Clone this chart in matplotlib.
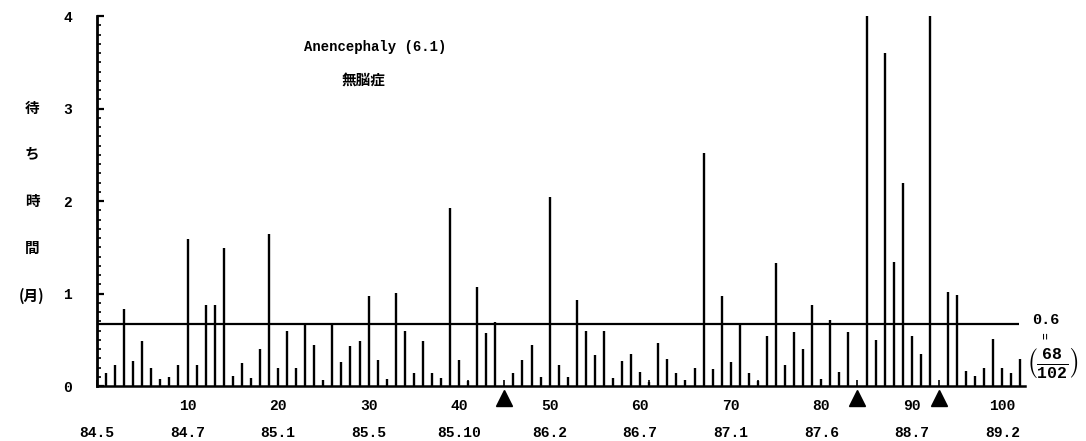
import matplotlib
matplotlib.use("Agg")
import matplotlib.pyplot as plt
from matplotlib.ticker import MultipleLocator, FixedLocator
import matplotlib.transforms as mtransforms
import numpy as np

# waiting time (months) between successive cases, case no. 1..102
wait_months = [
    0.14, 0.23, 0.83, 0.27, 0.49, 0.20, 0.08, 0.10, 0.23, 1.59,
    0.23, 0.88, 0.88, 1.49, 0.11, 0.25, 0.09, 0.40, 1.64, 0.19,
    0.60, 0.19, 0.68, 0.44, 0.06, 0.68, 0.26, 0.43, 0.49, 0.97,
    0.28, 0.08, 1.01, 0.59, 0.14, 0.49, 0.14, 0.09, 1.92, 0.28,
    0.05, 1.07, 0.57, 0.69, 0.00, 0.14, 0.28, 0.44, 0.10, 2.04,
    0.23, 0.10, 0.93, 0.59, 0.33, 0.59, 0.09, 0.27, 0.35, 0.15,
    0.04, 0.47, 0.29, 0.14, 0.06, 0.19, 2.52, 0.18, 0.97, 0.26,
    0.68, 0.14, 0.05, 0.54, 1.33, 0.23, 0.58, 0.40, 0.88, 0.08,
    0.71, 0.15, 0.58, 0.00, 4.00, 0.50, 3.60, 1.34, 2.19, 0.54,
    0.35, 4.00, 0.00, 1.02, 0.98, 0.16, 0.11, 0.19, 0.51, 0.20,
    0.14, 0.29,
]
case_no = np.arange(1, len(wait_months) + 1)

# cases marked with a triangle under the axis
marked_cases = [45, 84, 93]

# date (year.month) under every 10th case
date_ticks = [0, 10, 20, 30, 40, 50, 60, 70, 80, 90, 100]
date_labels = ["84.5", "84.7", "85.1", "85.5", "85.10", "86.2",
               "86.7", "87.1", "87.6", "88.7", "89.2"]

# reference level 68/102
ref_num, ref_den = 68, 102
ref_level = ref_num / ref_den

mono = ["Liberation Mono", "DejaVu Sans Mono"]
jp = ["Noto Sans CJK JP", "DejaVu Sans"]
plt.rcParams["mathtext.fontset"] = "custom"
plt.rcParams["mathtext.rm"] = "Liberation Mono:bold"
plt.rcParams["mathtext.it"] = "Liberation Mono:bold"
plt.rcParams["mathtext.bf"] = "Liberation Mono:bold"

fig = plt.figure(figsize=(10.86, 4.41), dpi=100)
ax = fig.add_axes([0.0893, 0.1247, 0.8545, 0.839])

ax.vlines(case_no, 0, wait_months, color="black", lw=1.7)
ax.hlines(ref_level, 0, 101.8, color="black", lw=1.6)

ax.set_xlim(0, 102.5)
ax.set_ylim(0, 4)

for side in ["top", "right"]:
    ax.spines[side].set_visible(False)
ax.spines["left"].set_linewidth(2.0)
ax.spines["bottom"].set_linewidth(1.8)

# y axis: major every 1, minor every 0.1, ticks pointing inward
ax.yaxis.set_major_locator(MultipleLocator(1))
ax.yaxis.set_minor_locator(MultipleLocator(0.1))
ax.tick_params(axis="y", which="major", direction="in", length=5, width=1.6, pad=18)
ax.tick_params(axis="y", which="minor", direction="in", length=3, width=1.2)

# x axis: small tick at every case, labels every 10
ax.xaxis.set_major_locator(FixedLocator(list(range(10, 101, 10))))
ax.xaxis.set_minor_locator(MultipleLocator(1))
ax.tick_params(axis="x", which="major", direction="in", length=4, width=1.2, pad=9)
ax.tick_params(axis="x", which="minor", direction="in", length=4, width=1.2)

for lab in ax.get_xticklabels() + ax.get_yticklabels():
    lab.set_family(mono)
    lab.set_fontweight("bold")
    lab.set_fontsize(10.5)

blend = mtransforms.blended_transform_factory(ax.transData, ax.transAxes)

# dates row
for x, d in zip(date_ticks, date_labels):
    ax.text(x, -0.127, d, transform=blend, ha="center", va="center",
            family=mono, fontweight="bold", fontsize=10.5)

# triangles under the marked cases
ax.plot(marked_cases, [-0.033] * len(marked_cases), marker="^", ls="none",
        color="black", ms=11, transform=blend, clip_on=False)

# titles
ax.text(0.30, 0.916, "Anencephaly (6.1)", transform=ax.transAxes, ha="center",
        va="center", family=mono, fontweight="bold", fontsize=10)
ax.text(0.287, 0.827, "無脳症", transform=ax.transAxes, ha="center",
        va="center", family=jp, fontweight="bold", fontsize=10.5)

# vertical y label
ylabel_chars = ["待", "ち", "時", "間", "(月)"]
ylabel_y = [108, 154, 201, 248, 296]
for ch, py in zip(ylabel_chars, ylabel_y):
    fig.text(32 / 1086, 1 - py / 441, ch, ha="center", va="center",
             family=jp, fontweight="bold", fontsize=10.5)

# reference level note at the right end of the line
fig.text(1046 / 1086, 1 - 320 / 441, "0.6", ha="center", va="center",
         family=mono, fontweight="bold", fontsize=11)
fig.text(1046 / 1086, 1 - 336 / 441, "=", ha="center", va="center",
         family=mono, fontweight="bold", fontsize=8, rotation=90)
fig.text(1052 / 1086, 1 - 363 / 441,
         r"$\left(\frac{%d}{%d}\right)$" % (ref_num, ref_den),
         ha="center", va="center", fontsize=17)

fig.savefig("out.png", dpi=100)
